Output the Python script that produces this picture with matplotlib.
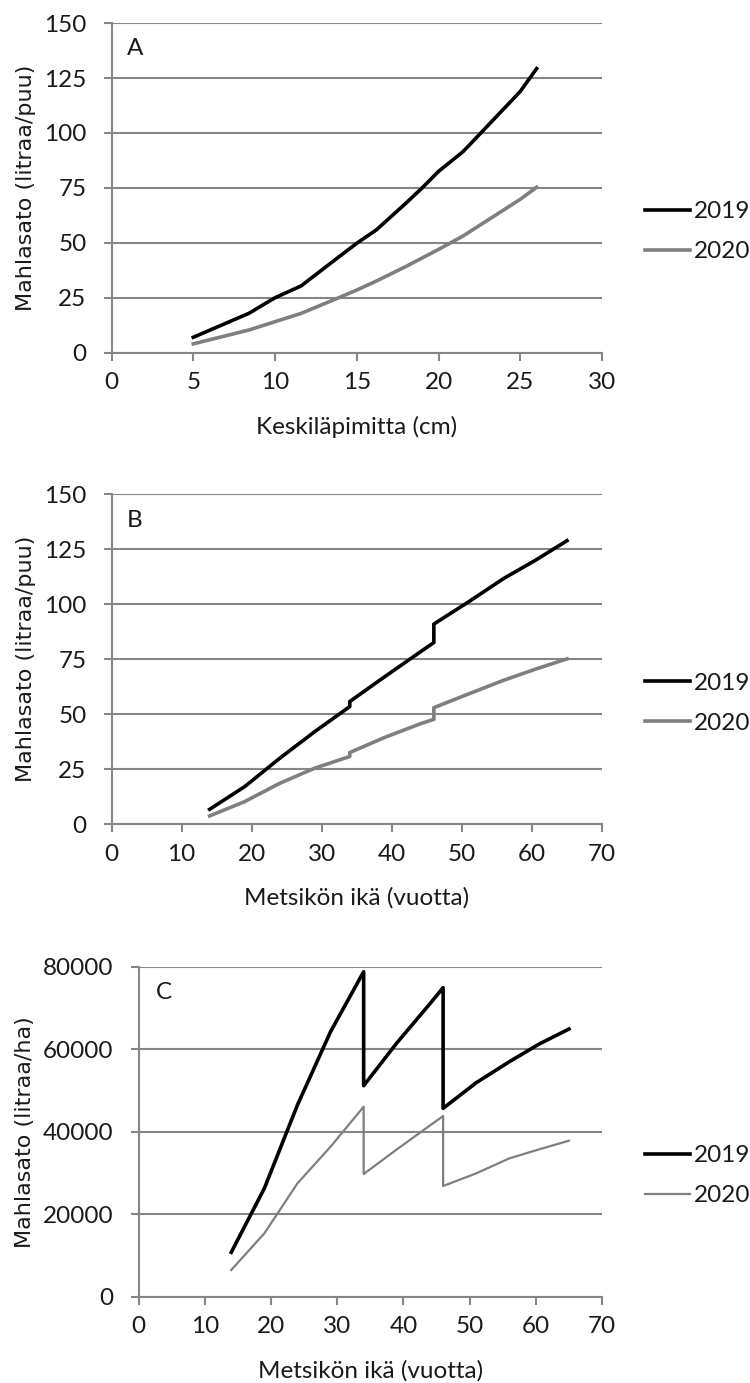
import numpy as np
import matplotlib
matplotlib.use("Agg")
import matplotlib.pyplot as plt

plt.rcParams['font.family'] = ['Lato', 'DejaVu Sans']

# --- data ---
# A: sap yield per tree vs mean diameter
diam_19 = [5, 8.4, 10, 11.6, 13.8, 15, 16.2, 18, 19, 20, 21.5, 22.5, 25, 26]
sap_a_19 = [7.0, 17.9, 25, 30.4, 43, 49.8, 55.9, 68, 75, 82.5, 91.5, 99.3, 118.9, 129.3]
diam_20 = [5, 8.4, 10, 11.6, 13.8, 15, 16.2, 18, 20, 21.5, 25, 26]
sap_a_20 = [4.0, 10.3, 14.1, 17.9, 24.7, 28.5, 32.6, 39.2, 47, 53.1, 69.8, 75.3]

# B and C: stand age (thinnings at 34 and 46 give two values at the same age)
age = [14, 19, 24, 29, 34, 34, 39, 44, 46, 46, 51, 56, 60.5, 65]
sap_b_19 = [6.8, 17.1, 30, 42.1, 53.5, 55.8, 67.1, 78.2, 82.6, 91, 101.2, 111.8, 120, 128.9]
sap_b_20 = [3.8, 10.3, 18.6, 25.5, 30.8, 32.6, 39.5, 45.6, 47.7, 53, 59.3, 65.5, 70.5, 75.2]
sap_c_19 = [10750, 26260, 46470, 64240, 78790, 51150, 61500, 71000, 74910, 45660,
            51880, 56970, 61250, 64890]
sap_c_20 = [6470, 15350, 27480, 36360, 46060, 29740, 35700, 41500, 43800, 26830,
            29900, 33540, 35720, 37820]

years = ["2019", "2020"]

GRID = "#868686"
GRAY = "#7f7f7f"
TXT = "#1a1a1a"
FS = 17.5

fig = plt.figure(figsize=(7.5, 13.83), dpi=100)


def style_axes(ax, xmax, xstep, ymax, ystep, ylabel, xlabel, letter, ylab_x, lbl_x):
    ax.set_xlim(0, xmax)
    ax.set_ylim(0, ymax)
    ax.set_xticks(np.arange(0, xmax + 1, xstep))
    ax.set_yticks(np.arange(0, ymax + 1, ystep))
    for s in ["top", "right"]:
        ax.spines[s].set_visible(False)
    for s in ["left", "bottom"]:
        ax.spines[s].set_color(GRID)
        ax.spines[s].set_linewidth(1.5)
    ax.yaxis.grid(True, color=GRID, linewidth=1.5)
    ax.set_axisbelow(True)
    ax.tick_params(axis="x", direction="out", length=6, width=1.5, color=GRID,
                   labelsize=FS, pad=8, labelcolor=TXT)
    ax.tick_params(axis="y", direction="out", length=6, width=1.5, color=GRID,
                   labelsize=FS, pad=12, labelcolor=TXT)
    ax.set_ylabel(ylabel, family="DejaVu Sans", fontsize=16, color=TXT)
    ax.yaxis.set_label_coords(ylab_x, 0.5)
    ax.yaxis.label.set_va("center")
    ax.set_xlabel(xlabel, fontsize=FS, color=TXT)
    ax.xaxis.set_label_coords(0.5, -0.224)
    ax.xaxis.label.set_va("center")
    ax.text(lbl_x, 0.922, letter, transform=ax.transAxes, fontsize=FS,
            ha="center", va="center", color=TXT)


def add_legend(ax, x):
    ax.legend(loc="center left", bbox_to_anchor=(x, 0.367), frameon=False,
              fontsize=FS, handlelength=1.86, handletextpad=0.15,
              labelspacing=0.78, borderpad=0, borderaxespad=0,
              labelcolor=TXT)


# panel A
axA = fig.add_axes([0.1487, 0.745, 0.654, 0.2383])
axA.plot(diam_19, sap_a_19, color="black", lw=2.6, label=years[0])
axA.plot(diam_20, sap_a_20, color=GRAY, lw=2.6, label=years[1])
style_axes(axA, 30, 5, 150, 25, "Mahlasato (litraa/puu)", "Keskiläpimitta (cm)",
           "A", -0.175, 0.048)
add_legend(axA, 1.0877)

# panel B
axB = fig.add_axes([0.1487, 0.4040, 0.654, 0.2386])
axB.plot(age, sap_b_19, color="black", lw=2.6, label=years[0])
axB.plot(age, sap_b_20, color=GRAY, lw=2.6, label=years[1])
style_axes(axB, 70, 10, 150, 25, "Mahlasato (litraa/puu)", "Metsikön ikä (vuotta)",
           "B", -0.175, 0.048)
add_legend(axB, 1.0877)

# panel C
axC = fig.add_axes([0.1847, 0.0624, 0.618, 0.2386])
axC.plot(age, sap_c_19, color="black", lw=2.6, label=years[0])
axC.plot(age, sap_c_20, color=GRAY, lw=1.6, label=years[1])
style_axes(axC, 70, 10, 80000, 20000, "Mahlasato (litraa/ha)", "Metsikön ikä (vuotta)",
           "C", -0.244, 0.054)
add_legend(axC, 1.093)

fig.savefig("out.png", dpi=100)
